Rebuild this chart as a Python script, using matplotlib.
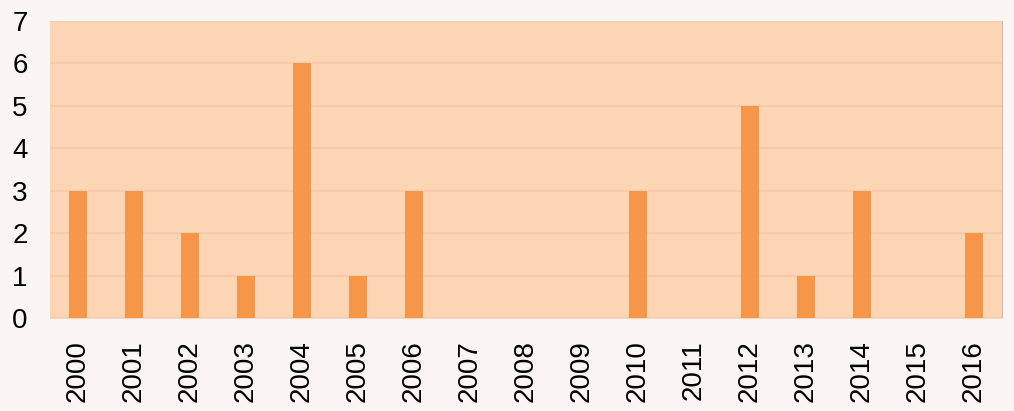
import numpy as np
import matplotlib.pyplot as plt

years = ['2000', '2001', '2002', '2003', '2004', '2005', '2006', '2007', '2008',
         '2009', '2010', '2011', '2012', '2013', '2014', '2015', '2016']
counts = [3, 3, 2, 1, 6, 1, 3, 0, 0, 0, 3, 0, 5, 1, 3, 0, 2]
y_ticks = [0, 1, 2, 3, 4, 5, 6, 7]

plt.rcParams['font.family'] = ['Liberation Sans', 'DejaVu Sans']

fig = plt.figure(figsize=(10.14, 4.11), dpi=100, facecolor='#fbf6f4')
ax = fig.add_axes([0.0493, 0.2263, 0.9388, 0.7227])
ax.set_facecolor('#fcd5b4')

x = np.arange(len(years))
ax.bar(x, counts, width=0.33, color='#f79646', zorder=3)

ax.set_xlim(-0.5, len(years) - 0.5)
ax.set_ylim(0, 7)
ax.set_yticks(y_ticks)
ax.set_xticks(x)
ax.set_xticklabels(years, rotation=90)
ax.yaxis.grid(True, color='#f2ccb0', linewidth=1.5, zorder=0)
ax.tick_params(axis='both', length=0, labelsize=20, colors='black')
ax.tick_params(axis='y', pad=16)
ax.tick_params(axis='x', pad=16)
for side in ['top', 'left']:
    ax.spines[side].set_visible(False)
ax.spines['right'].set_color('#c8bcb8')
ax.spines['bottom'].set_color('#f0d8c8')

fig.savefig('out.png', dpi=100, facecolor=fig.get_facecolor())
